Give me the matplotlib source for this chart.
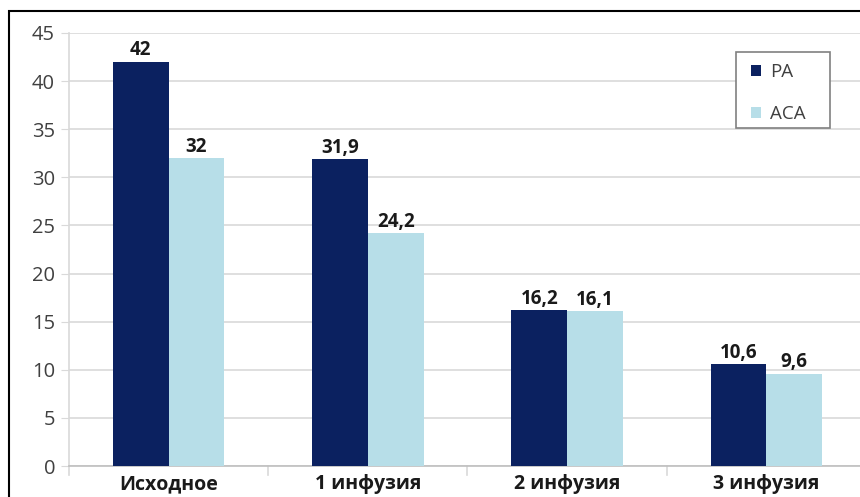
import matplotlib
matplotlib.use("Agg")
import matplotlib.pyplot as plt
from matplotlib.patches import Rectangle
import numpy as np

categories = ["Исходное", "1 инфузия", "2 инфузия", "3 инфузия"]
pa_values = [42, 31.9, 16.2, 10.6]
aca_values = [32, 24.2, 16.1, 9.6]
series_names = ["PA", "ACA"]

plt.rcParams["font.family"] = ["Open Sans", "DejaVu Sans"]

W, H = 860, 497
fig = plt.figure(figsize=(W / 100, H / 100), dpi=100)

x0, x1 = 69, 866
y0, y1 = 466, 33
ax = fig.add_axes([x0 / W, (H - y0) / H, (x1 - x0) / W, (y0 - y1) / H])

pa_color = "#0B2160"
aca_color = "#B7DEE8"
grid_color = "#D9D9D9"

x = np.arange(len(categories))
bw = 0.28
b1 = ax.bar(x - bw / 2, pa_values, bw, color=pa_color, label=series_names[0], zorder=3)
b2 = ax.bar(x + bw / 2, aca_values, bw, color=aca_color, label=series_names[1], zorder=3)

def fmt(v):
    return (f"{v:g}").replace(".", ",")

for bars, vals in ((b1, pa_values), (b2, aca_values)):
    for r, v in zip(bars, vals):
        ax.annotate(fmt(v), (r.get_x() + r.get_width() / 2, v), xytext=(0, 1),
                    textcoords="offset points", ha="center", va="bottom",
                    fontsize=13.5, fontweight="bold", color="#1a1a1a")

ax.set_xlim(-0.5, len(categories) - 0.5)
ax.set_ylim(0, 45)
ax.set_yticks(np.arange(0, 46, 5))
ax.yaxis.grid(True, color=grid_color, linewidth=1.2, zorder=0)
ax.tick_params(axis="y", length=6, color=grid_color, labelsize=14.5, labelcolor="#404040", pad=4)

ax.set_xticks(x)
ax.set_xticklabels(categories, fontsize=14, fontweight="bold", color="#1a1a1a")
ax.tick_params(axis="x", length=0, pad=6)
for b in np.arange(-0.5, len(categories), 1.0):
    ax.plot([b, b], [0, -0.9], color=grid_color, lw=1.2, clip_on=False, zorder=2)

for s in ("top", "right"):
    ax.spines[s].set_visible(False)
ax.spines["left"].set_color(grid_color)
ax.spines["left"].set_linewidth(1.2)
ax.spines["bottom"].set_color("#BFBFBF")
ax.spines["bottom"].set_linewidth(1.2)

# legend frame box drawn separately, entries placed inside it
ax.add_patch(Rectangle((736 / W, (H - 128) / H), 94 / W, 76 / H,
                       transform=fig.transFigure, facecolor="white",
                       edgecolor="#808080", linewidth=1.2, zorder=6, clip_on=False))
leg = ax.legend(loc="upper left", bbox_to_anchor=(751 / W, (H - 63) / H),
                bbox_transform=fig.transFigure,
                fontsize=13.5, frameon=False,
                handlelength=0.55, handleheight=0.55, handletextpad=0.45,
                labelspacing=1.28, borderpad=0, borderaxespad=0)
leg.set_zorder(7)
for t in leg.get_texts():
    t.set_color("#404040")

# outer chart frame
fig.patches.append(Rectangle((9 / W, -0.1), 2.0, (H - 11) / H + 0.1,
                             transform=fig.transFigure, fill=False,
                             edgecolor="black", linewidth=1.5))

fig.savefig("out.png", dpi=100)
